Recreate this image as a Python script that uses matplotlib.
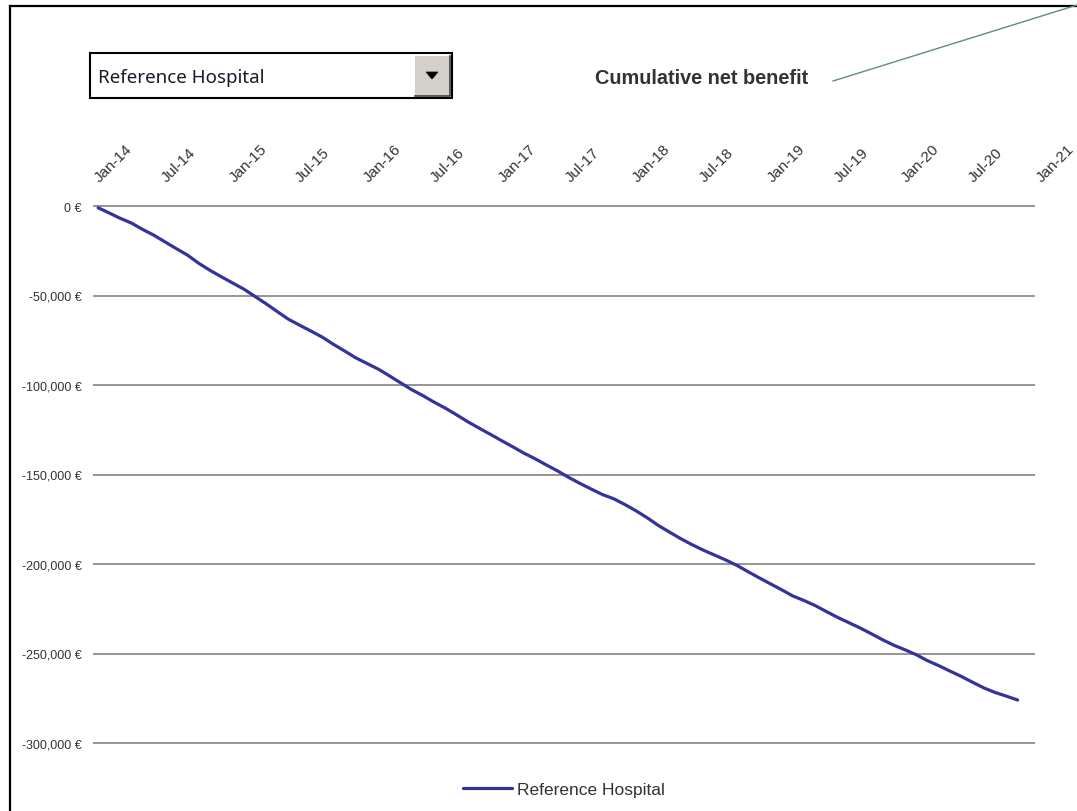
import matplotlib
matplotlib.use("Agg")
import matplotlib.pyplot as plt
import matplotlib.dates as mdates
from matplotlib.patches import Rectangle, Polygon
from matplotlib.lines import Line2D
from matplotlib.ticker import FuncFormatter, FixedLocator
import matplotlib.transforms as mtransforms
import datetime as dt

W, H = 1077, 812

# ---------------- data ----------------
series_name = "Reference Hospital"
chart_title = "Cumulative net benefit"
start_year, start_month = 2014, 1
cumulative_net_benefit = [
    -1000, -4000, -6800, -9500, -13000, -16300, -20000, -23800, -27500, -32000,
    -36000, -39500, -43000, -46500, -50300, -54500, -58800, -63200, -66500, -69800,
    -73200, -77200, -81000, -84800, -88000, -91200, -94800, -98800, -102600, -106000,
    -109600, -113000, -116800, -120600, -124200, -127600, -131200, -134700, -138000, -141200,
    -144600, -148000, -151600, -155000, -158200, -161200, -163600, -166800, -170400, -174400,
    -178400, -182200, -185800, -189200, -192200, -195000, -197800, -200800, -204400, -207800,
    -211200, -214600, -217800, -220400, -223200, -226600, -229800, -232800, -235800, -239000,
    -242400, -245400, -248000, -250800, -254000, -256800, -259800, -262800, -266000, -269200,
    -271800, -273800, -276000,
]
y_ticks = [0, -50000, -100000, -150000, -200000, -250000, -300000]
x_tick_labels = ["Jan-14", "Jul-14", "Jan-15", "Jul-15", "Jan-16", "Jul-16", "Jan-17",
                 "Jul-17", "Jan-18", "Jul-18", "Jan-19", "Jul-19", "Jan-20", "Jul-20", "Jan-21"]

# monthly dates (mid-month)
dates = []
for i in range(len(cumulative_net_benefit)):
    m = start_month - 1 + i
    dates.append(dt.date(start_year + m // 12, m % 12 + 1, 15))
tick_dates = []
for i in range(len(x_tick_labels)):
    m = 6 * i
    tick_dates.append(dt.date(start_year + m // 12, m % 12 + 1, 1))

plt.rcParams['font.family'] = ['Liberation Sans', 'DejaVu Sans']

fig = plt.figure(figsize=(W / 100, H / 100), dpi=100)
fig.patch.set_facecolor('white')

def fx(x):
    return x / W

def fy(y):
    return 1 - y / H

# outer frame (left and top edges visible)
fig.add_artist(Line2D([fx(10), fx(10)], [fy(7), fy(812)], color='black', lw=1.6, transform=fig.transFigure))
fig.add_artist(Line2D([fx(10), fx(1077)], [fy(7), fy(7)], color='black', lw=1.6, transform=fig.transFigure))

# plot axes
y_top_px, y_bot_px = 207, 744
px_per_unit = (y_bot_px - y_top_px) / 300000
ylim_top, ylim_bot = 1500, -301500
ax_top = y_top_px - ylim_top * px_per_unit
ax_bot = y_bot_px + 1500 * px_per_unit
ax = fig.add_axes([fx(93), fy(ax_bot), fx(1035) - fx(93), (ax_bot - ax_top) / H])
ax.set_facecolor('none')

xs = mdates.date2num(dates)
ax.plot(xs, cumulative_net_benefit, color='#333399', lw=2.3, solid_capstyle='round',
        label=series_name, zorder=3)

ax.set_ylim(ylim_bot, ylim_top)
ax.set_xlim(mdates.date2num(dt.date(2014, 1, 1)), mdates.date2num(dt.date(2021, 1, 1)))
ax.yaxis.set_major_locator(FixedLocator(y_ticks))
ax.yaxis.set_major_formatter(FuncFormatter(lambda v, p: ("{:,.0f} €".format(v)).replace("-0 ", "0 ")))
ax.grid(axis='y', color='#8c8c8c', lw=1.3)
ax.set_axisbelow(True)
for s in ax.spines.values():
    s.set_visible(False)

ax.xaxis.tick_top()
ax.set_xticks(mdates.date2num(tick_dates))
ax.set_xticklabels(x_tick_labels)
ax.tick_params(axis='x', length=0, pad=14, labelsize=11, colors='#333333')
shift = mtransforms.ScaledTranslation(9 / 100, 0, fig.dpi_scale_trans)
for lab in ax.get_xticklabels():
    lab.set_rotation(45)
    lab.set_ha('left')
    lab.set_va('bottom')
    lab.set_rotation_mode('anchor')
    lab.set_transform(lab.get_transform() + shift)
ax.tick_params(axis='y', length=0, pad=8, labelsize=9, colors='#333333')

# legend
leg = fig.legend(handles=ax.get_lines(), loc='center', bbox_to_anchor=(fx(564), fy(790)),
                 frameon=False, fontsize=12.5, handlelength=2.8, handletextpad=0.3)
for t in leg.get_texts():
    t.set_color('#333333')

# title and connector line
fig.text(fx(595), fy(79), chart_title, fontsize=14.3, fontweight='bold', color='#333333',
         ha='left', va='center')
fig.add_artist(Line2D([fx(833), fx(1077)], [fy(82), fy(6)], color='#5f8a8b', lw=1.0,
                      transform=fig.transFigure))

# dropdown control
fig.add_artist(Rectangle((fx(90), fy(99)), fx(452) - fx(90), (99 - 54) / H,
                         transform=fig.transFigure, facecolor='white', edgecolor='black', lw=1.5))
fig.add_artist(Rectangle((fx(415), fy(97)), fx(450) - fx(415), (97 - 57) / H,
                         transform=fig.transFigure, facecolor='#d4d0c8', edgecolor='none'))
fig.add_artist(Line2D([fx(415), fx(450), fx(450)], [fy(97), fy(97), fy(57)], color='#404040', lw=1.2,
                      transform=fig.transFigure))
fig.add_artist(Polygon([[fx(426), fy(73)], [fx(438), fy(73)], [fx(432), fy(80)]], closed=True,
                       transform=fig.transFigure, facecolor='black', edgecolor='black', lw=0.5))
fig.text(fx(98), fy(78), series_name, fontsize=13.5, color='#1a1a2a', ha='left', va='center',
         family=['Noto Sans', 'DejaVu Sans'])

fig.savefig('out.png', dpi=100)
